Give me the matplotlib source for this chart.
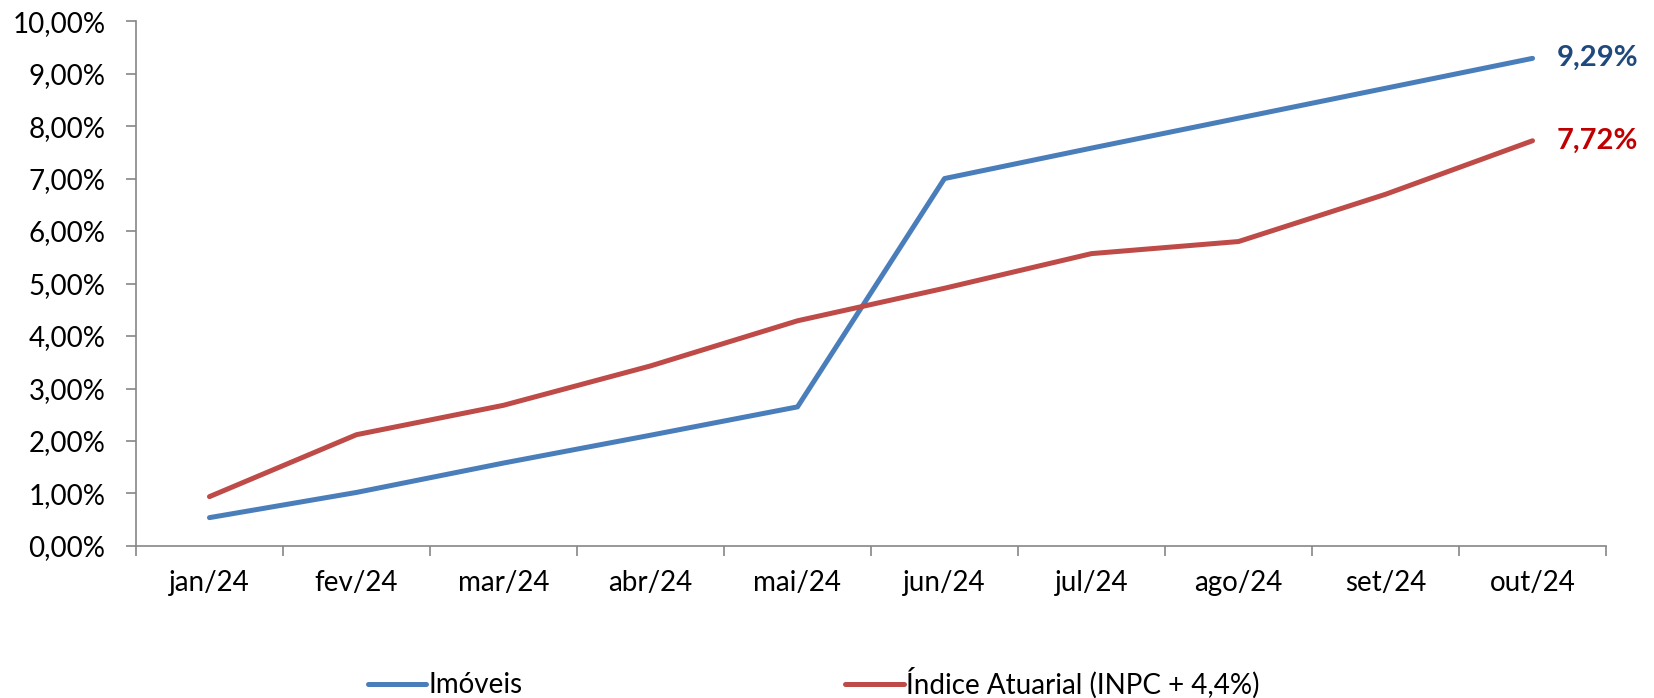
import numpy as np
import matplotlib.pyplot as plt
from matplotlib.ticker import FuncFormatter, FixedLocator

plt.rcParams['font.family'] = ['Lato', 'DejaVu Sans']

meses = ['jan/24', 'fev/24', 'mar/24', 'abr/24', 'mai/24',
         'jun/24', 'jul/24', 'ago/24', 'set/24', 'out/24']
imoveis = [0.54, 1.02, 1.58, 2.11, 2.65, 7.00, 7.58, 8.15, 8.72, 9.29]
indice = [0.94, 2.12, 2.68, 3.43, 4.29, 4.91, 5.57, 5.80, 6.70, 7.72]

cor_azul = '#4A7EBB'
cor_verm = '#BE4B48'
cinza = '#868686'

fig = plt.figure(figsize=(16.54, 6.98), dpi=100)
ax = fig.add_axes([0.0822, 0.2178, 0.8888, 0.752])

x = np.arange(len(meses))
ax.plot(x, imoveis, color=cor_azul, lw=3.6, solid_capstyle='round', label='Imóveis')
ax.plot(x, indice, color=cor_verm, lw=3.6, solid_capstyle='round',
        label='Índice Atuarial (INPC + 4,4%)')

ax.annotate('9,29%', (x[-1], imoveis[-1]), xytext=(24, 0), textcoords='offset pixels',
            ha='left', va='center', fontsize=21, fontweight='bold', color='#1F497D')
ax.annotate('7,72%', (x[-1], indice[-1]), xytext=(24, 0), textcoords='offset pixels',
            ha='left', va='center', fontsize=21, fontweight='bold', color='#C00000')

ax.set_xlim(-0.5, len(meses) - 0.5)
ax.set_ylim(0, 10)
ax.set_yticks(np.arange(0, 11, 1))
ax.yaxis.set_major_formatter(FuncFormatter(lambda v, p: f'{v:.2f}'.replace('.', ',') + '%'))

ax.set_xticks(x)
ax.set_xticklabels(meses)
ax.xaxis.set_minor_locator(FixedLocator(np.arange(-0.5, len(meses), 1)))
ax.tick_params(axis='x', which='major', length=0, pad=17, labelsize=20)
ax.tick_params(axis='x', which='minor', length=7, color=cinza, width=1.2)
ax.tick_params(axis='y', length=7, color=cinza, width=1.2, labelsize=20, pad=15)

for s in ['top', 'right']:
    ax.spines[s].set_visible(False)
for s in ['left', 'bottom']:
    ax.spines[s].set_color(cinza)
    ax.spines[s].set_linewidth(1.2)

fig.legend(loc='center', bbox_to_anchor=(0.492, 0.022), ncol=2, frameon=False,
           fontsize=20, handlelength=2.1, handletextpad=0.1, columnspacing=11.6)

fig.savefig('out.png', dpi=100)
